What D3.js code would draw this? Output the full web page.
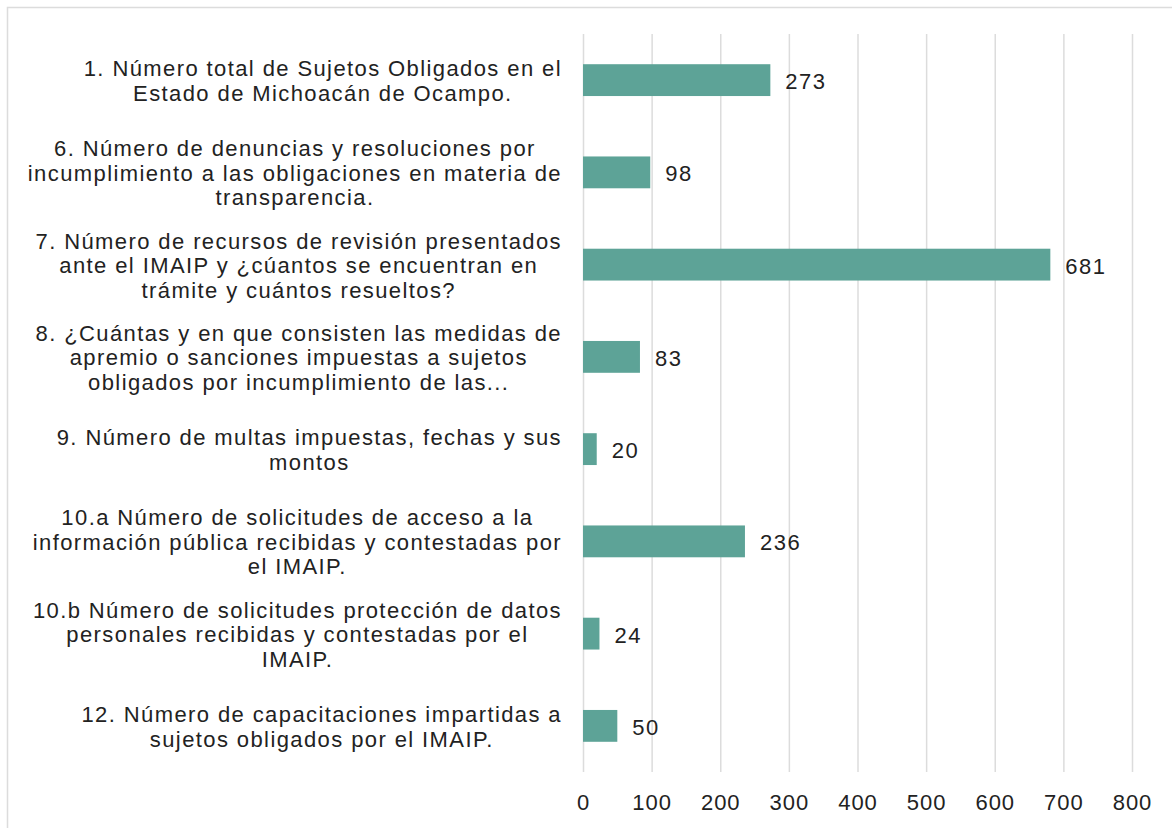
<!DOCTYPE html>
<html>
<head>
<meta charset="utf-8">
<script src="https://cdn.jsdelivr.net/npm/d3@7"></script>
<style>
  html, body { margin: 0; padding: 0; background: #ffffff; }
  svg { display: block; }
  text { font-family: "Liberation Sans", Arial, sans-serif; fill: #222222; }
</style>
</head>
<body>
<svg id="chart" width="1172" height="828"></svg>
<script>
// ---- data ----
const categories = [
  "1. Número total de Sujetos Obligados en el\nEstado de Michoacán de Ocampo.",
  "6. Número de denuncias y resoluciones por\nincumplimiento a las obligaciones en materia de\ntransparencia.",
  "7. Número de recursos de revisión presentados\nante el IMAIP y ¿cúantos se encuentran en\ntrámite y cuántos resueltos?",
  "8. ¿Cuántas y en que consisten las medidas de\napremio o sanciones impuestas a sujetos\nobligados por incumplimiento de las...",
  "9. Número de multas impuestas, fechas y sus\nmontos",
  "10.a Número de solicitudes de acceso a la\ninformación pública recibidas y contestadas por\nel IMAIP.",
  "10.b Número de solicitudes protección de datos\npersonales recibidas y contestadas por el\nIMAIP.",
  "12. Número de capacitaciones impartidas a\nsujetos obligados por el IMAIP."
];
const values = [273, 98, 681, 83, 20, 236, 24, 50];
const xTicks = [0, 100, 200, 300, 400, 500, 600, 700, 800];

// ---- layout ----
const svg = d3.select("#chart");
const plotTop = 34, plotBottom = 772, plotLeft = 583, plotRight = 1132;
const labelRight = 562;
const barColor = "#5da397";
const gridColor = "#dcdcdc";

// outer frame (cropped on right and bottom)
svg.append("rect")
  .attr("x", 7.5).attr("y", 7.5)
  .attr("width", 1300).attr("height", 1000)
  .attr("fill", "none").attr("stroke", "#dcdcdc").attr("stroke-width", 1.5);

const x = d3.scaleLinear().domain([0, 800]).range([plotLeft, plotRight]);
const y = d3.scaleBand().domain(categories).range([plotTop, plotBottom])
  .paddingInner(0.655).paddingOuter(0.3275);

// grid + tick labels
const axis = d3.axisBottom(x).tickValues(xTicks).tickSize(-(plotBottom - plotTop)).tickFormat(d3.format("d"));
const gAxis = svg.append("g").attr("transform", `translate(0,${plotBottom})`).call(axis);
gAxis.select(".domain").remove();
gAxis.selectAll(".tick line").attr("stroke", gridColor).attr("stroke-width", 1.5);
gAxis.selectAll(".tick text")
  .attr("y", 38).attr("dy", null)
  .style("font-size", "22px")
  .style("letter-spacing", "1px")
  .style("font-family", "'Liberation Sans', Arial, sans-serif")
  .attr("fill", "#222222");

// bars
svg.append("g").selectAll("rect")
  .data(values)
  .join("rect")
  .attr("x", x(0))
  .attr("y", (d, i) => y(categories[i]))
  .attr("width", d => x(d) - x(0))
  .attr("height", y.bandwidth())
  .attr("fill", barColor);

// data labels
svg.append("g").selectAll("text")
  .data(values)
  .join("text")
  .attr("x", d => x(d) + 15)
  .attr("y", (d, i) => y(categories[i]) + y.bandwidth() / 2 + 9)
  .style("font-size", "22px")
  .style("letter-spacing", "1.5px")
  .text(d => d);

// category labels: lines centred within a block that is right-aligned
const lineH = 24.5;
const gLab = svg.append("g");
categories.forEach((cat, i) => {
  const lines = cat.split("\n");
  const cy = y(cat) + y.bandwidth() / 2 + 0.5;
  const t = gLab.append("text")
    .attr("text-anchor", "middle")
    .style("font-size", "22px")
    .style("letter-spacing", "1.4px");
  const tspans = lines.map((ln, k) => t.append("tspan")
    .attr("y", cy + (k - (lines.length - 1) / 2) * lineH + 8)
    .text(ln));
  const maxW = d3.max(tspans, s => s.node().getComputedTextLength());
  tspans.forEach(s => s.attr("x", labelRight - maxW / 2));
});
</script>
</body>
</html>
